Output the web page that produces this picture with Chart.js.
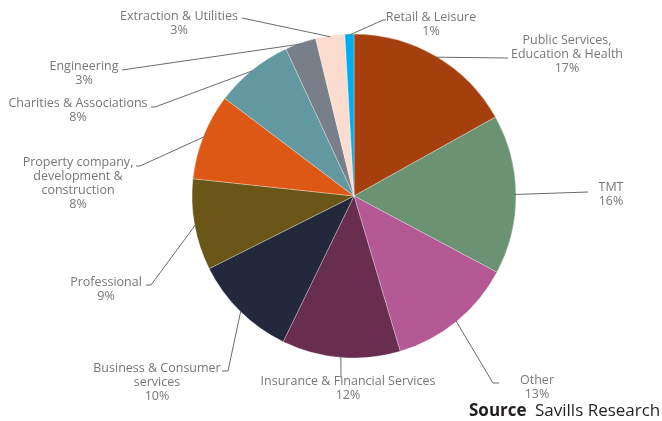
<!DOCTYPE html>
<html>
<head>
<meta charset="utf-8">
<script src="https://cdn.jsdelivr.net/npm/chart.js@4.4.1/dist/chart.umd.min.js"></script>
<style>
  html, body { margin: 0; padding: 0; background: #fff; }
  #wrap { position: relative; width: 662px; height: 421px; overflow: hidden; }
  #source { position: absolute; left: 469px; top: 398px; font-family: "Open Sans", sans-serif; font-size: 17px; color: #231f20; white-space: nowrap; }
  #source b { font-weight: 700; margin-right: 4px; }
</style>
</head>
<body>
<div id="wrap">
  <canvas id="sectors" width="662" height="421"></canvas>
  <div id="source"><b>Source</b> Savills Research</div>
</div>
<script>
const sectors = [
    ['Public Services,', 'Education & Health'],
    ['TMT'],
    ['Other'],
    ['Insurance & Financial Services'],
    ['Business & Consumer', 'services'],
    ['Professional'],
    ['Property company,', 'development &', 'construction'],
    ['Charities & Associations'],
    ['Engineering'],
    ['Extraction & Utilities'],
    ['Retail & Leisure']
];
const shares = [16.9, 15.9, 12.6, 11.8, 10.4, 9.1, 8.6, 7.8, 3.1, 2.9, 0.9];
const shareLabels = ['17%', '16%', '13%', '12%', '10%', '9%', '8%', '8%', '3%', '3%', '1%'];
const colors = ['#a5400e', '#6a9273', '#b45993', '#682d4f', '#23283c', '#6a5717',
    '#dd5815', '#62989f', '#787f89', '#fbdccf', '#00aeef'];

// where each label sits: elbow of leader line, optional hook end, text centre
const labelLayout = [
    {elbow: [508, 58], text: [567, 40]},
    {elbow: [588, 192], text: [611, 187]},
    {elbow: [493, 383], hook: [499, 383], text: [537, 380]},
    {elbow: [341, 378], text: [348, 381]},
    {elbow: [228, 371], hook: [222, 371], text: [157, 368]},
    {elbow: [151, 285], hook: [146, 285], text: [106, 282]},
    {elbow: [140, 166], hook: [136, 166], text: [78, 162]},
    {elbow: [155, 107], hook: [151, 107], text: [78, 103]},
    {elbow: [122, 70], text: [84, 66]},
    {elbow: [242, 18], text: [179, 16]},
    {elbow: [383, 20], hook: [386, 20], text: [431, 17]}
];

const leaderLabels = {
    id: 'leaderLabels',
    afterDatasetsDraw(chart) {
        const ctx = chart.ctx;
        const arcs = chart.getDatasetMeta(0).data;
        ctx.save();
        ctx.strokeStyle = '#6b6b6b';
        ctx.lineWidth = 1;
        arcs.forEach((arc, i) => {
            const p = arc.getProps(['x', 'y', 'startAngle', 'endAngle', 'outerRadius'], true);
            const mid = (p.startAngle + p.endAngle) / 2;
            const r = p.outerRadius - 1;
            const lay = labelLayout[i];
            ctx.beginPath();
            ctx.moveTo(p.x + Math.cos(mid) * r, p.y + Math.sin(mid) * r);
            ctx.lineTo(lay.elbow[0], lay.elbow[1]);
            if (lay.hook) ctx.lineTo(lay.hook[0], lay.hook[1]);
            ctx.stroke();
        });
        ctx.font = '12.5px "Open Sans", sans-serif';
        ctx.fillStyle = '#777777';
        ctx.textAlign = 'center';
        ctx.textBaseline = 'middle';
        arcs.forEach((arc, i) => {
            const lay = labelLayout[i];
            const lines = sectors[i].concat([shareLabels[i]]);
            lines.forEach((line, j) => {
                ctx.fillText(line, lay.text[0], lay.text[1] + j * 14);
            });
        });
        ctx.restore();
    }
};

new Chart(document.getElementById('sectors'), {
    type: 'pie',
    data: {
        labels: sectors.map(s => s.join(' ')),
        datasets: [{
            data: shares,
            backgroundColor: colors,
            borderColor: 'rgba(255,255,255,0.5)',
            borderWidth: 0.6,
            radius: 162
        }]
    },
    options: {
        responsive: false,
        animation: false,
        layout: {padding: {left: 46, top: 0, right: 0, bottom: 29}},
        plugins: {
            legend: {display: false},
            tooltip: {enabled: false}
        }
    },
    plugins: [leaderLabels]
});
</script>
</body>
</html>
